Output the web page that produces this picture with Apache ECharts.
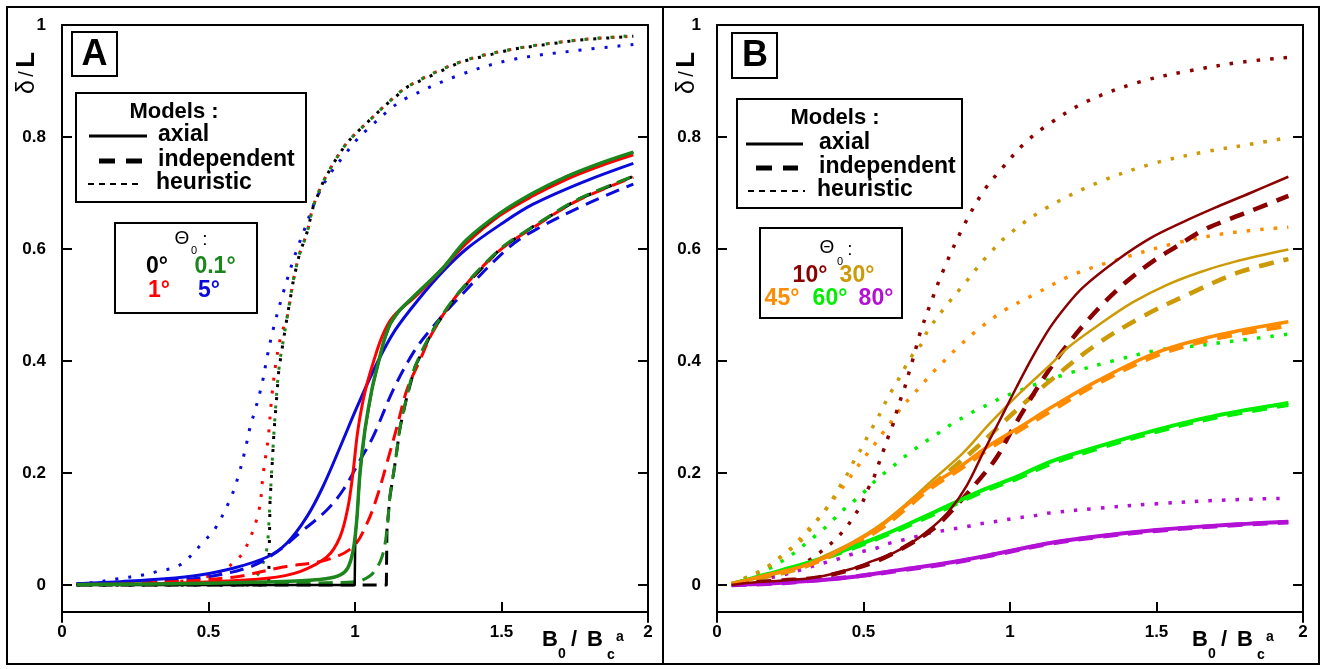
<!DOCTYPE html>
<html><head><meta charset="utf-8">
<script src="https://cdn.jsdelivr.net/npm/echarts@6/dist/echarts.min.js"></script>
<style>html,body{margin:0;padding:0;background:#fff}#c{width:1327px;height:669px}</style>
</head><body><div id="c"></div>
<script>
// ---------- tick labels ----------
const xTicks = [0, 0.5, 1, 1.5, 2];
const yTicks = [0, 0.2, 0.4, 0.6, 0.8, 1];

// ---------- Panel A (Θ0 = 0°, 0.1°, 1°, 5°) : [B0/Bca, δ/L] ----------
const A_heur_5 = [[0.05,0.002],[0.1,0.004],[0.19,0.011],[0.277,0.018],[0.317,0.023],[0.403,0.036],[0.488,0.08],[0.522,0.1],[0.573,0.152],[0.601,0.193],[0.625,0.241],[0.642,0.282],[0.659,0.312],[0.683,0.36],[0.70,0.407],[0.72,0.455],[0.754,0.52],[0.795,0.589],[0.829,0.637],[0.863,0.684],[0.908,0.729],[0.972,0.773],[1.006,0.795],[1.045,0.815],[1.13,0.854],[1.17,0.868],[1.348,0.909],[1.53,0.9375],[1.75,0.954],[1.95,0.965]];
const A_heur_1 = [[0.05,0.001],[0.3,0.003],[0.45,0.01],[0.55,0.025],[0.584,0.04],[0.62,0.059],[0.67,0.128],[0.687,0.2],[0.704,0.264],[0.716,0.336],[0.733,0.407],[0.75,0.45],[0.768,0.477],[0.79,0.545],[0.81,0.59],[0.836,0.629],[0.857,0.675],[0.89,0.718],[0.925,0.752],[0.97,0.788],[1.0,0.805],[1.05,0.83],[1.1,0.855],[1.18,0.89],[1.36,0.934],[1.54,0.957],[1.76,0.973],[1.95,0.98]];
const A_heur_0 = [[0.05,0],[0.705,0],[0.707,0.05],[0.71,0.15],[0.724,0.277],[0.74,0.384],[0.761,0.455],[0.768,0.477],[0.79,0.545],[0.81,0.59],[0.836,0.629],[0.857,0.675],[0.89,0.718],[0.925,0.752],[0.97,0.788],[1.0,0.805],[1.05,0.83],[1.1,0.855],[1.18,0.89],[1.36,0.934],[1.54,0.957],[1.76,0.973],[1.95,0.98]];
const A_heur_01 = [[0.05,0],[0.5,0.001],[0.6,0.004],[0.65,0.012],[0.67,0.02],[0.69,0.045],[0.70,0.068],[0.705,0.1],[0.71,0.15],[0.724,0.277],[0.74,0.384],[0.761,0.455],[0.768,0.477],[0.79,0.545],[0.81,0.59],[0.836,0.629],[0.857,0.675],[0.89,0.718],[0.925,0.752],[0.97,0.788],[1.0,0.805],[1.05,0.83],[1.1,0.855],[1.18,0.89],[1.36,0.934],[1.54,0.957],[1.76,0.973],[1.95,0.981]];

const A_indep_5 = [[0.05,0.002],[0.3,0.007],[0.471,0.0125],[0.64,0.032],[0.733,0.059],[0.812,0.093],[0.904,0.134],[0.96,0.17],[1.017,0.223],[1.061,0.264],[1.13,0.348],[1.198,0.414],[1.256,0.455],[1.358,0.515],[1.519,0.6],[1.608,0.632],[1.79,0.68],[1.95,0.716]];
const A_indep_1 = [[0.05,0.001],[0.3,0.004],[0.584,0.014],[0.754,0.032],[0.904,0.045],[0.993,0.068],[1.041,0.11],[1.075,0.157],[1.109,0.218],[1.143,0.282],[1.177,0.348],[1.222,0.402],[1.266,0.452],[1.352,0.52],[1.495,0.598],[1.608,0.638],[1.758,0.686],[1.95,0.728]];
const A_indep_0 = [[0.05,0],[1.107,0],[1.109,0.098],[1.119,0.157],[1.137,0.218],[1.154,0.282],[1.177,0.336],[1.205,0.39],[1.266,0.455],[1.352,0.521],[1.495,0.6],[1.608,0.64],[1.758,0.688],[1.95,0.73]];
const A_indep_01 = [[0.05,0.0005],[0.6,0.002],[0.9,0.004],[1.0,0.006],[1.027,0.009],[1.061,0.021],[1.092,0.05],[1.109,0.098],[1.119,0.157],[1.137,0.218],[1.154,0.282],[1.177,0.336],[1.205,0.39],[1.266,0.455],[1.352,0.521],[1.495,0.6],[1.608,0.64],[1.758,0.688],[1.95,0.73]];

const A_axial_5 = [[0.05,0.002],[0.2,0.006],[0.35,0.011],[0.471,0.018],[0.584,0.03],[0.70,0.05],[0.768,0.075],[0.836,0.122],[0.89,0.175],[0.949,0.246],[1.007,0.318],[1.075,0.396],[1.137,0.455],[1.22,0.512],[1.3,0.56],[1.38,0.6],[1.5,0.645],[1.608,0.68],[1.78,0.72],[1.95,0.753]];
const A_axial_1 = [[0.05,0.001],[0.3,0.002],[0.47,0.005],[0.7,0.012],[0.812,0.024],[0.904,0.05],[0.949,0.086],[0.976,0.139],[0.993,0.2],[1.01,0.277],[1.034,0.345],[1.068,0.407],[1.092,0.443],[1.12,0.472],[1.15,0.49],[1.2,0.512],[1.3,0.565],[1.38,0.61],[1.495,0.66],[1.608,0.695],[1.72,0.724],[1.836,0.748],[1.95,0.768]];
const A_axial_0 = [[0.05,0],[0.999,0],[1.001,0.09],[1.007,0.121],[1.017,0.2],[1.034,0.277],[1.058,0.35],[1.085,0.408],[1.10,0.438],[1.12,0.466],[1.15,0.489],[1.2,0.515],[1.3,0.566],[1.38,0.616],[1.495,0.664],[1.608,0.70],[1.72,0.729],[1.836,0.753],[1.95,0.773]];
const A_axial_01 = [[0.05,0.001],[0.5,0.003],[0.8,0.007],[0.9,0.011],[0.95,0.018],[0.975,0.03],[0.993,0.06],[1.005,0.11],[1.017,0.2],[1.034,0.277],[1.058,0.35],[1.085,0.408],[1.10,0.438],[1.12,0.466],[1.15,0.489],[1.2,0.515],[1.3,0.566],[1.38,0.616],[1.495,0.664],[1.608,0.70],[1.72,0.729],[1.836,0.753],[1.95,0.773]];

// ---------- Panel B (Θ0 = 10°, 30°, 45°, 60°, 80°) ----------
const B_heur_10 = [[0.05,0],[0.14,0.0125],[0.225,0.023],[0.273,0.032],[0.317,0.045],[0.362,0.0625],[0.399,0.079],[0.437,0.1],[0.468,0.123],[0.495,0.146],[0.515,0.171],[0.536,0.193],[0.553,0.218],[0.57,0.243],[0.584,0.264],[0.601,0.287],[0.614,0.311],[0.628,0.334],[0.642,0.355],[0.655,0.379],[0.669,0.404],[0.68,0.425],[0.693,0.45],[0.727,0.50],[0.771,0.56],[0.836,0.635],[0.908,0.702],[0.976,0.746],[1.05,0.789],[1.13,0.822],[1.26,0.863],[1.44,0.898],[1.61,0.918],[1.795,0.934],[1.95,0.942]];
const B_heur_30 = [[0.05,0.001],[0.096,0.0125],[0.14,0.023],[0.181,0.036],[0.225,0.054],[0.27,0.071],[0.304,0.089],[0.334,0.111],[0.365,0.13],[0.396,0.155],[0.423,0.179],[0.447,0.2],[0.471,0.225],[0.498,0.248],[0.519,0.271],[0.546,0.295],[0.567,0.318],[0.59,0.341],[0.614,0.362],[0.64,0.387],[0.666,0.41],[0.7,0.432],[0.717,0.452],[0.778,0.496],[0.846,0.539],[0.92,0.586],[1.0,0.628],[1.13,0.675],[1.307,0.72],[1.485,0.752],[1.66,0.773],[1.843,0.789],[1.95,0.799]];
const B_heur_45 = [[0.05,0.001],[0.096,0.012],[0.14,0.022],[0.181,0.035],[0.225,0.053],[0.27,0.075],[0.304,0.095],[0.334,0.111],[0.369,0.134],[0.406,0.159],[0.44,0.182],[0.471,0.205],[0.502,0.227],[0.536,0.25],[0.565,0.271],[0.6,0.295],[0.631,0.318],[0.666,0.338],[0.703,0.36],[0.741,0.382],[0.785,0.405],[0.823,0.425],[0.9,0.46],[0.983,0.491],[1.08,0.518],[1.215,0.554],[1.386,0.584],[1.57,0.611],[1.74,0.628],[1.95,0.639]];
const B_heur_60 = [[0.05,0.001],[0.096,0.0125],[0.14,0.021],[0.188,0.032],[0.229,0.045],[0.273,0.061],[0.314,0.079],[0.355,0.096],[0.396,0.116],[0.433,0.135],[0.474,0.153],[0.512,0.171],[0.55,0.191],[0.594,0.209],[0.635,0.227],[0.676,0.243],[0.72,0.259],[0.764,0.274],[0.805,0.289],[0.85,0.302],[0.89,0.314],[0.938,0.325],[0.976,0.336],[1.023,0.345],[1.08,0.357],[1.2,0.378],[1.35,0.40],[1.51,0.42],[1.6,0.425],[1.74,0.434],[1.95,0.448]];
const B_heur_80 = [[0.05,0.001],[0.14,0.008],[0.225,0.018],[0.273,0.025],[0.317,0.032],[0.362,0.039],[0.41,0.046],[0.454,0.054],[0.498,0.06],[0.546,0.066],[0.584,0.074],[0.631,0.08],[0.676,0.086],[0.717,0.092],[0.761,0.096],[0.805,0.1],[0.85,0.104],[0.894,0.109],[0.938,0.112],[0.98,0.116],[1.027,0.12],[1.075,0.123],[1.126,0.128],[1.3,0.137],[1.5,0.145],[1.7,0.151],[1.95,0.155]];

const B_indep_10 = [[0.05,0],[0.113,0.004],[0.225,0.008],[0.341,0.013],[0.454,0.027],[0.556,0.045],[0.648,0.07],[0.737,0.1],[0.805,0.135],[0.898,0.19],[0.956,0.229],[1.007,0.277],[1.058,0.322],[1.113,0.368],[1.18,0.418],[1.246,0.461],[1.317,0.502],[1.396,0.541],[1.485,0.577],[1.57,0.605],[1.66,0.634],[1.747,0.653],[1.836,0.671],[1.95,0.695]];
const B_indep_30 = [[0.05,0.002],[0.171,0.015],[0.283,0.03],[0.375,0.05],[0.464,0.073],[0.556,0.1],[0.648,0.138],[0.727,0.175],[0.805,0.209],[0.887,0.246],[0.966,0.285],[1.034,0.318],[1.126,0.36],[1.283,0.425],[1.444,0.477],[1.625,0.523],[1.785,0.559],[1.95,0.582]];
const B_indep_45 = [[0.05,0.002],[0.171,0.017],[0.283,0.031],[0.375,0.049],[0.464,0.073],[0.556,0.101],[0.648,0.139],[0.737,0.176],[0.829,0.207],[0.932,0.245],[1.034,0.277],[1.137,0.31],[1.3,0.36],[1.5,0.41],[1.7,0.44],[1.95,0.463]];
const B_indep_60 = [[0.05,0.001],[0.113,0.01],[0.225,0.026],[0.341,0.043],[0.454,0.064],[0.567,0.087],[0.683,0.113],[0.795,0.14],[0.908,0.167],[1.023,0.19],[1.137,0.216],[1.3,0.244],[1.5,0.274],[1.7,0.299],[1.95,0.322]];
const B_indep_80 = [[0.05,0],[0.171,0.002],[0.283,0.006],[0.454,0.014],[0.625,0.026],[0.795,0.039],[0.966,0.056],[1.137,0.074],[1.3,0.086],[1.5,0.097],[1.7,0.105],[1.95,0.112]];

const B_axial_10 = [[0.05,0],[0.113,0.004],[0.225,0.008],[0.341,0.014],[0.454,0.028],[0.532,0.043],[0.601,0.057],[0.669,0.077],[0.737,0.104],[0.795,0.134],[0.853,0.178],[0.908,0.236],[0.966,0.295],[1.023,0.354],[1.08,0.41],[1.137,0.46],[1.19,0.497],[1.25,0.532],[1.365,0.58],[1.478,0.619],[1.59,0.648],[1.706,0.675],[1.82,0.70],[1.95,0.729]];
const B_axial_30 = [[0.05,0.002],[0.171,0.016],[0.283,0.032],[0.375,0.054],[0.464,0.077],[0.556,0.107],[0.648,0.146],[0.737,0.188],[0.84,0.236],[0.932,0.289],[1.034,0.343],[1.137,0.393],[1.2,0.425],[1.307,0.466],[1.42,0.505],[1.536,0.536],[1.65,0.559],[1.765,0.577],[1.95,0.599]];
const B_axial_45 = [[0.05,0.002],[0.171,0.018],[0.283,0.032],[0.375,0.05],[0.464,0.075],[0.556,0.104],[0.648,0.143],[0.737,0.18],[0.829,0.211],[0.932,0.25],[1.034,0.282],[1.137,0.316],[1.3,0.365],[1.5,0.415],[1.7,0.445],[1.95,0.47]];
const B_axial_60 = [[0.05,0.001],[0.113,0.011],[0.225,0.027],[0.341,0.045],[0.454,0.066],[0.567,0.089],[0.683,0.116],[0.795,0.143],[0.908,0.17],[1.023,0.193],[1.137,0.22],[1.3,0.247],[1.5,0.277],[1.7,0.302],[1.95,0.325]];
const B_axial_80 = [[0.05,0],[0.171,0.002],[0.283,0.006],[0.454,0.014],[0.625,0.027],[0.795,0.04],[0.966,0.057],[1.137,0.075],[1.3,0.087],[1.5,0.098],[1.7,0.106],[1.95,0.113]];

// ---------- colours ----------
const C = {
  a0: '#000000', a01: '#1c861c', a1: '#ff0000', a5: '#0a0adc',
  b10: '#8b0000', b30: '#cc9a06', b45: '#ff8c00', b60: '#00ee00', b80: '#b310d6'
};

const FONT = '"Liberation Sans", Arial, sans-serif';
const YMIN = -0.0661;

const styleA = {
  solid: {width: 3, type: 'solid'},
  dash: {width: 3, type: [14, 8]},
  dot: {width: 3, type: [3, 10]}
};
const styleB = {
  solid: {width: 3, type: 'solid'},
  dash: {width: 4.5, type: [15, 10]},
  dot: {width: 3.5, type: [3.5, 10]}
};

function ser(grid, data, color, ls, z, smooth) {
  return {
    type: 'line', xAxisIndex: grid * 2, yAxisIndex: grid * 2,
    data: data, showSymbol: false, symbol: 'none',
    smooth: smooth === undefined ? 0.35 : smooth,
    lineStyle: Object.assign({color: color, cap: 'butt', join: 'round'}, ls),
    z: z, silent: true, animation: false, clip: true
  };
}

const series = [
  // A dotted
  ser(0, A_heur_5, C.a5, styleA.dot, 2), ser(0, A_heur_1, C.a1, styleA.dot, 2),
  ser(0, A_heur_0, C.a0, styleA.dot, 2, false), ser(0, A_heur_01, C.a01, styleA.dot, 2),
  // A dashed
  ser(0, A_indep_5, C.a5, styleA.dash, 3), ser(0, A_indep_0, C.a0, styleA.dash, 3, false),
  ser(0, A_indep_1, C.a1, styleA.dash, 3), ser(0, A_indep_01, C.a01, styleA.dash, 3),
  // A solid
  ser(0, A_axial_5, C.a5, styleA.solid, 4), ser(0, A_axial_1, C.a1, styleA.solid, 4),
  ser(0, A_axial_0, C.a0, {width: 2.5, type: 'solid'}, 4, false), ser(0, A_axial_01, C.a01, {width: 3.5, type: 'solid'}, 4),
  // B dotted
  ser(1, B_heur_80, C.b80, styleB.dot, 2), ser(1, B_heur_60, C.b60, styleB.dot, 2),
  ser(1, B_heur_45, C.b45, styleB.dot, 2), ser(1, B_heur_30, C.b30, styleB.dot, 2),
  ser(1, B_heur_10, C.b10, styleB.dot, 2),
  // B dashed
  ser(1, B_indep_80, C.b80, styleB.dash, 3), ser(1, B_indep_60, C.b60, styleB.dash, 3),
  ser(1, B_indep_30, C.b30, styleB.dash, 3), ser(1, B_indep_45, C.b45, styleB.dash, 3),
  ser(1, B_indep_10, C.b10, styleB.dash, 3),
  // B solid
  ser(1, B_axial_80, C.b80, {width: 4, type: 'solid'}, 4), ser(1, B_axial_60, C.b60, {width: 4, type: 'solid'}, 4),
  ser(1, B_axial_30, C.b30, {width: 2.5, type: 'solid'}, 4), ser(1, B_axial_45, C.b45, {width: 3.5, type: 'solid'}, 4),
  ser(1, B_axial_10, C.b10, {width: 2.5, type: 'solid'}, 4)
];

const axLine = {show: true, onZero: false, lineStyle: {color: '#000', width: 2}};
const lbl = {color: '#000', fontSize: 17, fontWeight: 'bold', fontFamily: FONT};

function xAxes(g) {
  return [
    {gridIndex: g, type: 'value', min: 0, max: 2, interval: 0.5, position: 'bottom', offset: -10,
     axisLine: axLine, axisTick: {inside: true, length: 10, lineStyle: {color: '#000', width: 2}},
     axisLabel: Object.assign({margin: 12}, lbl), splitLine: {show: false}},
    {gridIndex: g, type: 'value', min: 0, max: 2, position: 'top',
     axisLine: axLine, axisTick: {show: false}, axisLabel: {show: false}, splitLine: {show: false}}
  ];
}
function yAxes(g) {
  return [
    {gridIndex: g, type: 'value', min: YMIN, max: 1, position: 'left',
     axisLine: axLine,
     axisTick: {inside: true, length: 10, customValues: yTicks, lineStyle: {color: '#000', width: 2}},
     axisLabel: Object.assign({margin: 16, customValues: yTicks,
       formatter: v => String(Math.round(v * 10) / 10)}, lbl),
     splitLine: {show: false}},
    {gridIndex: g, type: 'value', min: YMIN, max: 1, position: 'right',
     axisLine: axLine,
     axisTick: {inside: true, length: 10, customValues: yTicks.slice(0, 5), lineStyle: {color: '#000', width: 2}},
     axisLabel: {show: false}, splitLine: {show: false}}
  ];
}

// ---------- graphic helpers ----------
function rect(x, y, w, h, lw) {
  return {type: 'rect', shape: {x: x, y: y, width: w, height: h},
          style: {fill: 'none', stroke: '#000', lineWidth: lw || 2}, z: 50, silent: true};
}
function line(x1, y1, x2, y2, lw, dash, color) {
  return {type: 'line', shape: {x1: x1, y1: y1, x2: x2, y2: y2},
          style: {stroke: color || '#000', lineWidth: lw, lineDash: dash || null}, z: 50, silent: true};
}
function txt(s, x, y, size, weight, color, align) {
  return {type: 'text', x: x, y: y, z: 51, silent: true,
          style: {text: s, fill: color || '#000', font: (weight || 'normal') + ' ' + size + 'px ' + FONT,
                  align: align || 'center', verticalAlign: 'middle'}};
}
function xName(x0) {
  return [
    txt('B', x0, 640, 22, 'bold', '#000', 'left'),
    txt('0', x0 + 16, 654, 14, 'bold', '#000', 'left'),
    txt('/', x0 + 29, 640, 22, 'bold', '#000', 'left'),
    txt('B', x0 + 45, 640, 22, 'bold', '#000', 'left'),
    txt('c', x0 + 65, 655, 14, 'bold', '#000', 'left'),
    txt('a', x0 + 74, 637, 14, 'bold', '#000', 'left')
  ];
}
function yName(x, y) {
  return {type: 'text', x: x, y: y, rotation: Math.PI / 2, z: 51, silent: true,
          style: {text: '{d|δ} {s|/} {l|L}', align: 'center', verticalAlign: 'middle',
                  rich: {d: {font: 'normal 25px ' + FONT, fill: '#000'},
                         s: {font: 'normal 20px ' + FONT, fill: '#000'},
                         l: {font: 'bold 26px ' + FONT, fill: '#000'}}}};
}
function modelsBox(bx, by, bw, bh, o) {
  return [
    rect(bx, by, bw, bh, 2),
    txt('Models :', o.mx, o.my, 22, 'bold'),
    line(o.s[0], o.s[1], o.s[2], o.s[1], 3),
    txt('axial', o.tx, o.s[1] - 1, 23, 'bold', '#000', 'left'),
    line(o.d[0], o.d[1], o.d[2], o.d[1], 5, [16, 11]),
    txt('independent', o.tx, o.d[1] - 1, 23, 'bold', '#000', 'left'),
    line(o.h[0], o.h[1], o.h[2], o.h[1], 2, [6, 5]),
    txt('heuristic', o.tx - 2, o.h[1] - 1, 23, 'bold', '#000', 'left')
  ];
}

const graphic = [
  // outer frames
  rect(7, 7, 1312, 657, 2),
  line(663, 7, 663, 664, 2),
  // panel letters
  rect(72, 32, 45, 44, 2), txt('A', 94.5, 55, 36, 'bold'),
  rect(732, 33, 45, 45, 2), txt('B', 755, 56, 36, 'bold'),
  // axis names
  yName(27, 73), yName(687, 73)
].concat(xName(542), xName(1192),
  modelsBox(76, 93, 230, 109, {mx: 174, my: 112, s: [89, 136, 147], d: [99, 161, 143], h: [88, 184, 143], tx: 158}),
  modelsBox(737, 99, 225, 109, {mx: 835, my: 118, s: [746, 144, 803], d: [756, 168, 798], h: [748, 191, 805], tx: 819}),
  [
    rect(115, 223, 142, 90, 2),
    txt('Θ', 182, 239, 19, 'normal'), txt('0', 194, 251, 11, 'normal'), txt(':', 205, 240, 19, 'normal'),
    txt('0°', 157, 267, 23, 'bold', C.a0), txt('0.1°', 215, 267, 23, 'bold', C.a01),
    txt('1°', 159, 291, 23, 'bold', C.a1), txt('5°', 209, 291, 23, 'bold', C.a5),
    rect(760, 228, 142, 90, 2),
    txt('Θ', 827, 248, 19, 'normal'), txt('0', 840, 262, 11, 'normal'), txt(':', 850, 250, 19, 'normal'),
    txt('10°', 810, 276, 23, 'bold', C.b10), txt('30°', 857, 276, 23, 'bold', C.b30),
    txt('45°', 782, 299, 23, 'bold', C.b45), txt('60°', 830, 299, 23, 'bold', C.b60),
    txt('80°', 876, 299, 23, 'bold', C.b80)
  ]);

const chart = echarts.init(document.getElementById('c'), null, {renderer: 'canvas'});
chart.setOption({
  animation: false,
  backgroundColor: '#fff',
  grid: [
    {left: 62, top: 25, width: 586, height: 597},
    {left: 717, top: 25, width: 586, height: 597}
  ],
  xAxis: xAxes(0).concat(xAxes(1)),
  yAxis: yAxes(0).concat(yAxes(1)),
  series: series,
  graphic: graphic
});
</script>
</body></html>
